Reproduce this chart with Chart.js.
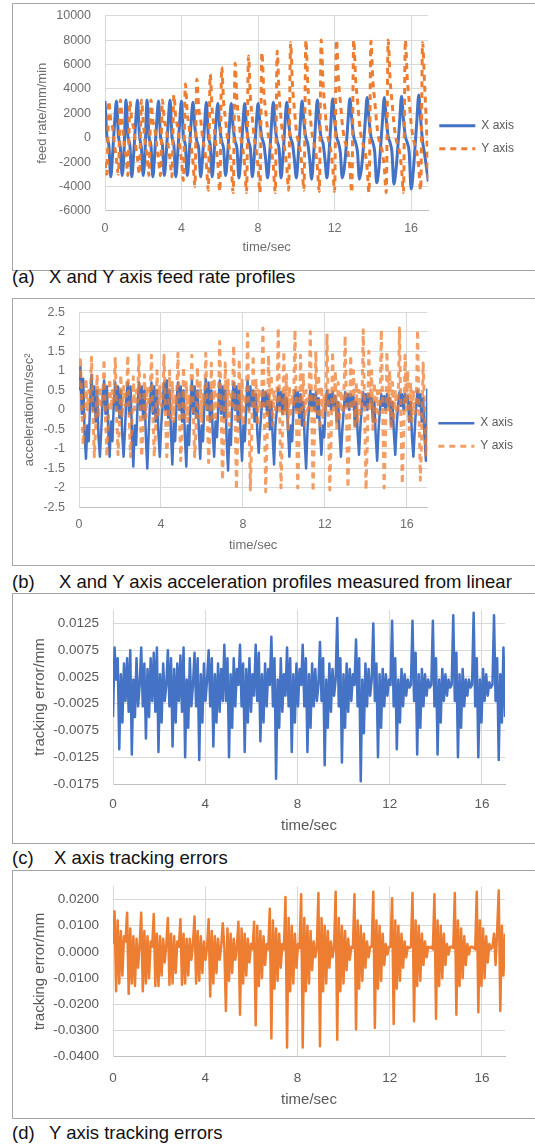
<!DOCTYPE html>
<html>
<head>
<meta charset="utf-8">
<title>Feed rate, acceleration and tracking error profiles</title>
<script src="https://cdn.jsdelivr.net/npm/chart.js@4/dist/chart.umd.min.js"></script>
<style>
  body { margin: 0; background: #fff; }
  #page { position: relative; width: 535px; height: 1144px; overflow: hidden; font-family: 'Liberation Sans', Arial, sans-serif; }
  .frame { position: absolute; left: 12px; width: 560px; border: 1px solid #a6a6a6; }
  .caption { position: absolute; left: 12px; width: 523px; height: 20px; font-size: 18.5px; line-height: 20px; color: #111; white-space: nowrap; }
  .caption span { position: absolute; top: 0; }
  canvas { position: absolute; left: 13px; }
</style>
</head>
<body>
<div id="page">
  <div class="frame" style="top:3px;height:266px"></div>
  <canvas id="chartA" width="522" height="259" style="top:0"></canvas>
  <div class="caption" style="top:267px"><span style="left:0">(a)</span><span style="left:37px">X and Y axis feed rate profiles</span></div>

  <div class="frame" style="top:298px;height:266px"></div>
  <canvas id="chartB" width="522" height="258" style="top:299px"></canvas>
  <div class="caption" style="top:572px"><span style="left:0">(b)</span><span style="left:47px">X and Y axis acceleration profiles measured from linear</span></div>

  <div class="frame" style="top:593px;height:249px"></div>
  <canvas id="chartC" width="522" height="245" style="top:594px"></canvas>
  <div class="caption" style="top:848px"><span style="left:0">(c)</span><span style="left:42px">X axis tracking errors</span></div>

  <div class="frame" style="top:870px;height:247px"></div>
  <canvas id="chartD" width="522" height="242" style="top:871px"></canvas>
  <div class="caption" style="top:1123px"><span style="left:0">(d)</span><span style="left:37px">Y axis tracking errors</span></div>
</div>
<script>
// time between samples (s)
const feedStep = 0.1
const sampleStep = 0.068

const seriesNames = ['X axis', 'Y axis']
const timeTicks = [0, 4, 8, 12, 16]
const feedTicks = [-6000, -4000, -2000, 0, 2000, 4000, 6000, 8000, 10000]
const accelTicks = [-2.5, -2, -1.5, -1, -0.5, 0, 0.5, 1, 1.5, 2, 2.5]
const errXTicks = [-0.0175, -0.0125, -0.0075, -0.0025, 0.0025, 0.0075, 0.0125]
const errYTicks = [-0.04, -0.03, -0.02, -0.01, 0, 0.01, 0.02]
const errXRange = [-0.0175, 0.015]
const errYRange = [-0.04, 0.025]

// (a) feed rate, mm/min
const feedX = [
  3000, 100, -600, -3200, -1300, 1200,
  3000, 200, -800, -3100, -900,
  3100, 100, -600, -3200, -1300, 1200,
  3100, 200, -800, -3100, -900,
  3100, 100, -600, -3200, -1300, 1200,
  3000, 100, -600, -3100, -1300, 1200,
  3100, 100, -600, -3200, -1300, 1200,
  3000, 100, -600, -3100, -1300, 1200,
  2900, 800, -300, -900, -3200, -1600, 900,
  2900, 100, -600, -3200, -1300, 1200,
  2800, 800, -300, -900, -3100, -1600, 900,
  2800, 800, -300, -900, -3300, -1600, 900,
  2800, 800, -300, -900, -3200, -1600, 900,
  2800, 1200, 0, -500, -1800, -3300, -1500, 1000,
  2900, 800, -300, -900, -3300, -1600, 900,
  2900, 1200, 0, -500, -1800, -3300, -1500, 1000,
  3000, 1200, 0, -500, -1800, -3400, -1500, 1000,
  3100, 1200, 0, -500, -1800, -3300, -1500, 1000,
  3200, 1500, 100, -400, -1200, -3300, -2600, -900, 1300,
  3200, 1500, 100, -400, -1200, -3400, -2600, -900, 1300,
  3300, 1500, 100, -400, -1200, -3700, -2800, -900, 1300,
  3300, 1500, 100, -400, -1200, -3800, -2800, -900, 1300,
  3400, 1500, 100, -400, -1200, -4200, -3000, -900, 1400,
  3500, 1500, -300, -1300, -2400, -3600,
]
const feedY = [
  -2000, -3000,
  3000, 1400, 800, -600, -1800, -3000,
  3100, 1300, -500, -1500, -3100,
  3000, 1400, 800, -600, -1800, -3000,
  3100, 1300, -500, -1500, -3100,
  3100, 1400, 800, -600, -1800, -3100,
  3100, 1400, 800, -600, -1800, -3200,
  3500, 1600, 900, -600, -1900, -3500,
  4400, 2000, 900, -600, -2000, -4000,
  4800, 2400, 1500, 0, -900, -2200, -4300,
  5200, 2300, 900, -600, -2100, -4400,
  5800, 2900, 1500, 0, -900, -2300, -4500,
  6100, 3000, 1500, 0, -900, -2300, -4500,
  6700, 3300, 1600, 0, -1000, -2400, -4500,
  7000, 3800, 2200, 600, -300, -1000, -2400, -4500,
  7100, 3500, 1600, 0, -1000, -2400, -4300,
  7800, 4300, 2300, 600, -300, -1000, -2400, -4300,
  8000, 4400, 2300, 600, -300, -1000, -2400, -4400,
  8000, 4400, 2300, 600, -300, -1000, -2400, -4400,
  8000, 4800, 3000, 1200, 0, -600, -1200, -2500, -4500,
  8000, 4800, 3000, 1200, 0, -600, -1200, -2500, -4500,
  7900, 4700, 3000, 1200, 0, -600, -1200, -2500, -4500,
  8000, 4800, 3000, 1200, 0, -600, -1200, -2500, -4500,
  8000, 4800, 3000, 1200, 0, -600, -1200, -2500, -4300,
  7800, 4500, 1000, -3500,
]

// (b) acceleration, m/sec^2
const accelX = [
  0.5, 1.1, -0.1, 0.8, -0.6, -1.25, -0.4, -0.8,
  0.2, 0.9, 0, 0.6, -0.3, 0.5, -0.7, -1.2, -0.5,
  0.3, 0.75, -0.1, 0.6, -0.5, -1.2, -0.3, -0.8,
  0.2, 0.7, 0, 0.6, -0.2, 0.5, -0.6, -1.2, -0.5,
  0.3, 0.7, -0.1, 0.6, -0.6, -1.45, -0.4, -0.9,
  0.1, 0.7, 0, 0.6, -0.2, 0.5, -0.7, -1.5, -0.6,
  0.2, 0.7, -0.1, 0.6, -0.3, 0.5, -0.6, -1.2, -0.4,
  0.1, 0.7, 0, 0.75, -0.2, 0.5, -0.6, -1.4, -0.3, -0.8,
  0.2, 0.7, 0, 0.6, -0.3, 0.5, -0.7, -1.45, -0.4, -0.9,
  0.1, 0.75, -0.1, 0.6, -0.2, 0.5, -0.5, -1.25, -0.4, -0.8,
  0.2, 0.8, 0, 0.7, -0.3, 0.5, -0.6, -1.2, -0.3, -0.7,
  0.1, 0.75, -0.1, 0.6, -0.2, 0.5, -0.8, -1.55, -0.5, -0.9,
  0.2, 0.7, 0, 0.6, -0.3, 0.5, -0.6, -1.3, -0.4, -0.8,
  0.1, 0.75, 0, 0.6, 0.1, 0.5, -0.3, 0.4, -0.6, -1.1, -0.5,
  0, 0.5, 0.1, 0.45, -0.1, 0.4, -0.5, 0.2, -0.7, -1.4, -0.4,
  0, 0.55, 0.1, 0.45, -0.1, 0.4, 0, 0.3, -0.5, -1.2, -0.4, -0.8,
  0.1, 0.5, 0, 0.45, -0.2, 0.4, -0.4, 0.2, -0.8, -1.5, -0.5,
  0, 0.5, 0.1, 0.4, 0, 0.45, -0.2, 0.3, -0.6, -1.15, -0.4, -0.7,
  0.1, 0.5, 0.1, 0.4, 0, 0.45, 0.1, 0.35, -0.3, 0.2, -0.6, -1.2, -0.5,
  0, 0.45, 0.1, 0.4, 0, 0.4, 0.1, 0.35, -0.4, 0.2, -0.6, -1.15, -0.4,
  0.1, 0.45, 0.1, 0.4, 0, 0.4, 0.2, 0.3, -0.3, 0.2, -0.7, -1.3, -0.5,
  0, 0.4, 0.1, 0.35, 0, 0.4, 0.1, 0.3, -0.4, 0.2, -0.6, -1.15, -0.4,
  0.1, 0.45, 0.1, 0.4, 0, 0.4, 0.2, 0.35, -0.3, 0.2, -0.7, -1.2, -0.5,
  0.1, 0.5, 0.1, 0.4, -0.3, 0.3, -0.7, -1.3, 0.55,
]
const accelY = [
  0.6, 1.35, 0.1, -0.9, -0.3, 0.8, 0, 0.5,
  0.2, 1.35, -0.1, -1.2, -0.4, 0.9, -0.2, 0.6, 0.1,
  0.2, 1.3, -0.2, -1.2, -0.3, 0.8, 0, 0.5,
  0.2, 1.35, -0.1, -1.15, -0.4, 0.9, -0.2, 0.6, 0.1,
  0.2, 1.4, -0.2, -1.2, -0.3, 0.85, 0, 0.5,
  0.2, 1.4, -0.1, -1.2, -0.4, 0.9, -0.2, 0.6, 0.1,
  0.2, 1.4, -0.1, -1.2, -0.5, 1, -0.2, 0.6, 0.1,
  0.1, 1.4, 0, -1.2, -0.5, 1, -0.2, 0.7, -0.3, 0.4,
  0.1, 1.45, 0, -1.3, -0.5, 1.1, -0.2, 0.7, -0.3, 0.4,
  0.1, 1.4, 0, -1.2, -0.5, 1.1, -0.2, 0.7, -0.3, 0.4,
  0.1, 1.45, 0, -1.35, -0.6, 1.2, -0.2, 0.8, -0.3, 0.4,
  0.1, 1.75, 0, -1.8, -0.6, 1.2, -0.2, 0.8, -0.4, 0.4,
  0.1, 1.65, 0, -2.05, -0.6, 1.3, -0.2, 0.8, -0.4, 0.4,
  0.1, 1.95, -0.1, -2.05, -0.6, 1.4, 0, 0.8, -0.4, 0.5, 0,
  0.1, 2.1, -0.1, -2.1, -0.7, 1.4, 0, 0.9, -0.4, 0.5, 0,
  0.1, 2.1, 0, -2, -0.6, 1.5, -0.1, 0.9, -0.5, 0.6, -0.2, 0.4,
  0.1, 2.05, -0.1, -2, -0.7, 1.4, 0, 0.9, -0.4, 0.5, 0,
  0.1, 2, 0, -2.1, -0.6, 1.5, -0.1, 0.9, -0.5, 0.6, -0.2, 0.4,
  0, 1.95, -0.1, -2.05, -0.7, 1.5, 0, 1, -0.5, 0.7, -0.3, 0.5, -0.1,
  0, 1.9, -0.1, -2, -0.7, 1.4, 0, 1, -0.5, 0.7, -0.3, 0.5, -0.1,
  0, 2.05, -0.1, -2.05, -0.7, 1.5, 0, 1, -0.5, 0.7, -0.3, 0.5, -0.1,
  0, 2.05, -0.1, -2, -0.7, 1.5, 0, 1, -0.5, 0.7, -0.3, 0.5, -0.1,
  0, 2.1, -0.1, -1.9, -0.7, 1.4, 0, 1, -0.5, 0.7, -0.3, 0.5, -0.1,
  0, 2.05, -0.1, -1.8, -0.6, 1.2, 0, -1.2, -0.4,
]

// (c) X axis tracking error, mm
const errX = [
  -0.005, 0.008, 0.002, 0.006, -0.011, 0.003, -0.006, 0.005,
  -0.002, 0.006, -0.004, 0.0075, -0.012, 0.002, -0.005, 0.006, -0.003,
  0.001, 0.008, -0.003, 0.005, -0.009, 0.004, -0.005, 0.006,
  -0.002, 0.007, -0.004, 0.008, -0.0115, 0.003, -0.006, 0.005, -0.002,
  0.001, 0.0075, -0.003, 0.006, -0.0105, 0.004, -0.006, 0.005,
  -0.002, 0.0065, -0.004, 0.008, -0.0125, 0.002, -0.007, 0.006, -0.003,
  0.001, 0.007, -0.003, 0.006, -0.013, 0.003, -0.006, 0.005, -0.002,
  0.002, 0.0075, -0.003, 0.006, -0.0105, 0.003, -0.006, 0.005, -0.004, 0.004,
  -0.002, 0.0085, -0.002, 0.006, -0.0125, 0.003, -0.007, 0.006, -0.003, 0.004,
  0.001, 0.0085, -0.003, 0.005, -0.0115, 0.004, -0.006, 0.006, -0.004, 0.003,
  -0.001, 0.0085, -0.002, 0.007, -0.0095, 0.003, -0.006, 0.005, -0.003, 0.004,
  0.001, 0.01, -0.003, 0.006, -0.0165, 0.002, -0.007, 0.006, -0.004, 0.003,
  -0.001, 0.008, -0.003, 0.006, -0.0115, 0.003, -0.006, 0.005, -0.003, 0.004,
  0.001, 0.0085, -0.003, 0.006, -0.0115, 0.003, -0.007, 0.005, -0.003, 0.004, -0.002,
  0.001, 0.009, -0.002, 0.006, -0.014, 0.002, -0.007, 0.005, -0.004, 0.004, -0.001,
  0.002, 0.0135, -0.003, 0.006, -0.0135, 0.003, -0.007, 0.005, -0.004, 0.004, -0.002, 0.003,
  0.001, 0.0095, -0.003, 0.006, -0.017, 0.002, -0.008, 0.005, -0.003, 0.004, -0.001,
  0.002, 0.0125, -0.002, 0.005, -0.0125, 0.003, -0.007, 0.004, -0.003, 0.003, -0.001, 0.002,
  0.001, 0.013, -0.003, 0.006, -0.011, 0.002, -0.006, 0.004, -0.003, 0.003, -0.001, 0.002, 0.0005,
  0.001, 0.013, -0.002, 0.007, -0.012, 0.003, -0.007, 0.004, -0.003, 0.003, -0.001, 0.002, 0.0005,
  0.001, 0.013, -0.003, 0.006, -0.012, 0.002, -0.006, 0.004, -0.002, 0.003, -0.001, 0.002, 0.0005,
  0.001, 0.014, -0.002, 0.007, -0.0125, 0.003, -0.007, 0.004, -0.003, 0.002, -0.001, 0.002, 0.0005,
  0.001, 0.0145, -0.003, 0.006, -0.0125, 0.002, -0.006, 0.004, -0.002, 0.003, -0.001, 0.0015, 0.0005,
  0.001, 0.014, -0.002, 0.006, -0.013, 0.003, -0.006, 0.008, -0.005,
]

// (d) Y axis tracking error, mm
const errY = [
  0.003, 0.0155, -0.015, 0.012, -0.012, 0.008, -0.009, 0.006,
  0.004, 0.015, -0.016, 0.009, -0.012, 0.006, -0.013, 0.005, -0.006,
  0.003, 0.015, -0.015, 0.008, -0.012, 0.006, -0.01, 0.004,
  0.002, 0.0145, -0.013, 0.007, -0.013, 0.006, -0.009, 0.005, -0.004,
  0.003, 0.013, -0.0125, 0.007, -0.012, 0.006, -0.008, 0.004,
  0.002, 0.0125, -0.0125, 0.007, -0.012, 0.005, -0.009, 0.005, -0.003,
  0.003, 0.0135, -0.012, 0.008, -0.011, 0.006, -0.008, 0.004, -0.003,
  0.002, 0.0125, -0.017, 0.008, -0.012, 0.006, -0.008, 0.005, -0.003, 0.002,
  0.011, 0.002, -0.0225, 0.009, -0.011, 0.007, -0.008, 0.005, -0.003, 0.002,
  0.0115, -0.024, 0.009, -0.012, 0.007, -0.009, 0.005, -0.004, 0.003, 0.001,
  0.0115, -0.028, 0.01, -0.013, 0.008, -0.01, 0.006, -0.005, 0.003, 0.001,
  0.0165, -0.033, 0.012, -0.014, 0.009, -0.011, 0.007, -0.006, 0.003, 0.001,
  0.021, -0.0365, 0.013, -0.015, 0.01, -0.012, 0.007, -0.006, 0.003, 0.0015,
  0.022, -0.0365, 0.013, -0.015, 0.01, -0.012, 0.008, -0.007, 0.004, -0.002, 0.002,
  0.0225, -0.036, 0.013, -0.015, 0.01, -0.012, 0.008, -0.006, 0.004, -0.002, 0.002,
  0.023, -0.0335, 0.013, -0.015, 0.01, -0.012, 0.008, -0.007, 0.005, -0.003, 0.002, 0.0015,
  0.022, -0.0295, 0.012, -0.014, 0.01, -0.011, 0.007, -0.006, 0.004, -0.002, 0.002,
  0.002, 0.023, -0.029, 0.012, -0.014, 0.01, -0.011, 0.007, -0.005, 0.003, -0.001, 0.002,
  0.002, 0.0205, -0.0275, 0.012, -0.014, 0.01, -0.011, 0.007, -0.006, 0.004, -0.002, 0.002, 0.0015,
  0.002, 0.0225, -0.0265, 0.012, -0.013, 0.01, -0.011, 0.007, -0.005, 0.004, -0.002, 0.002, 0.0015,
  0.002, 0.001, 0.022, -0.0255, 0.012, -0.013, 0.01, -0.01, 0.007, -0.005, 0.003, -0.001, 0.002,
  0.002, 0.0015, 0.0225, -0.024, 0.012, -0.013, 0.009, -0.01, 0.006, -0.005, 0.003, -0.001, 0.002,
  0.002, 0.0015, 0.001, 0.023, -0.023, 0.012, -0.013, 0.009, -0.01, 0.006, -0.004, 0.003, 0.001,
  0.002, 0.007, -0.005, 0.008, 0.0235, -0.0225, 0.01, -0.009, 0.007,
]

const BLUE = '#4472C4'
const ORANGE = '#ED7D31'
const ORANGE_SOFT = 'rgba(237,125,49,0.75)'
const GRID = '#d9d9d9'

Chart.defaults.font.family = "'Liberation Sans', Arial, sans-serif"

function toPoints(values, step) {
  return values.map((v, i) => ({ x: i * step, y: v }))
}

function xAxis(max, f) {
  return {
    type: 'linear',
    min: 0,
    max: max,
    afterBuildTicks: (axis) => { axis.ticks = timeTicks.map((v) => ({ value: v })) },
    afterFit: (axis) => {
      axis.height = f.height
      axis.paddingLeft = 0
      axis.paddingRight = 0
    },
    grid: { color: GRID, drawTicks: false },
    border: { color: '#bfbfbf' },
    ticks: { color: f.color, font: { size: f.tick }, padding: f.pad, maxRotation: 0 },
    title: { display: true, text: 'time/sec', color: f.color, font: { size: f.titleSize }, padding: { top: 4, bottom: 4 } },
  }
}

function yAxis(range, ticks, format, f) {
  return {
    min: range[0],
    max: range[1],
    afterBuildTicks: (axis) => { axis.ticks = ticks.map((v) => ({ value: v })) },
    afterFit: (axis) => {
      // keep the plot box where the layout padding puts it
      axis.width = f.width
      axis.paddingTop = 0
      axis.paddingBottom = 0
    },
    grid: { color: GRID, drawTicks: false },
    border: { color: GRID },
    ticks: { color: f.color, font: { size: f.tick }, padding: 14, callback: format },
    title: { display: true, text: f.title, color: f.color, font: { size: f.titleSize }, padding: { top: 4, bottom: 4 } },
  }
}

const legendOptions = {
  position: 'right',
  labels: {
    usePointStyle: true,
    pointStyle: 'line',
    pointStyleWidth: 36,
    color: '#595959',
    font: { size: 12 },
    padding: 11,
    sort: (a, b) => a.datasetIndex - b.datasetIndex,
    generateLabels: (chart) => {
      const items = Chart.defaults.plugins.legend.labels.generateLabels(chart)
      items.forEach((item) => {
        const ds = chart.data.datasets[item.datasetIndex]
        item.strokeStyle = ds.borderColor
        item.lineWidth = ds.borderWidth
        item.lineDash = ds.borderDash || []
        item.lineCap = 'butt'
        item.pointStyle = 'line'
      })
      return items
    },
  },
}

function drawPanel(id, datasets, p) {
  return new Chart(document.getElementById(id), {
    type: 'line',
    data: { datasets: datasets },
    options: {
      responsive: false,
      animation: false,
      devicePixelRatio: 1,
      parsing: false,
      layout: { padding: p.padding },
      elements: { point: { radius: 0 }, line: { borderJoinStyle: 'round', tension: 0 } },
      plugins: {
        legend: p.legend ? legendOptions : { display: false },
        tooltip: { enabled: false },
      },
      scales: { x: p.x, y: p.y },
    },
  })
}

const plain = (v) => String(v)
const fixed4 = (v) => v.toFixed(4)
const softGrey = '#6d6d6d'
const darkGrey = '#595959'

// feed rates are smooth, so draw them as monotone curves
drawPanel('chartA', [
  { label: seriesNames[0], data: toPoints(feedX, feedStep), borderColor: BLUE, borderWidth: 3, cubicInterpolationMode: 'monotone', order: 1 },
  { label: seriesNames[1], data: toPoints(feedY, feedStep), borderColor: ORANGE, borderWidth: 3, borderDash: [6, 5], cubicInterpolationMode: 'monotone', order: 0 },
], {
  legend: true,
  padding: { top: 15.7, left: 18, right: 11, bottom: 0 },
  x: xAxis(16.9, { height: 48.1, color: softGrey, tick: 12.5, titleSize: 13, pad: 10 }),
  y: yAxis([feedTicks[0], feedTicks[feedTicks.length - 1]], feedTicks, plain,
    { width: 74, color: softGrey, tick: 12.5, titleSize: 13, title: 'feed rate/mm/min' }),
})

drawPanel('chartB', [
  { label: seriesNames[0], data: toPoints(accelX, sampleStep), borderColor: BLUE, borderWidth: 2.5, order: 1 },
  { label: seriesNames[1], data: toPoints(accelY, sampleStep), borderColor: ORANGE_SOFT, borderWidth: 3, borderDash: [6, 5], order: 0 },
], {
  legend: true,
  padding: { top: 13.3, left: 5, right: 12, bottom: 0 },
  x: xAxis(17, { height: 49.5, color: softGrey, tick: 12.5, titleSize: 13, pad: 10 }),
  y: yAxis([accelTicks[0], accelTicks[accelTicks.length - 1]], accelTicks, plain,
    { width: 61, color: softGrey, tick: 12.5, titleSize: 13, title: 'acceleration/m/sec²' }),
})

drawPanel('chartC', [
  { label: seriesNames[0], data: toPoints(errX, sampleStep), borderColor: BLUE, borderWidth: 2.5 },
], {
  legend: false,
  padding: { top: 16, left: 14, right: 30, bottom: 0 },
  x: xAxis(17, { height: 55, color: darkGrey, tick: 13.5, titleSize: 15, pad: 12 }),
  y: yAxis(errXRange, errXTicks, fixed4,
    { width: 86, color: darkGrey, tick: 13.5, titleSize: 15, title: 'tracking error/mm' }),
})

drawPanel('chartD', [
  { label: seriesNames[1], data: toPoints(errY, sampleStep), borderColor: ORANGE, borderWidth: 2.5 },
], {
  legend: false,
  padding: { top: 15.5, left: 14, right: 30, bottom: 0 },
  x: xAxis(17, { height: 56.3, color: darkGrey, tick: 13.5, titleSize: 15, pad: 13 }),
  y: yAxis(errYRange, errYTicks, fixed4,
    { width: 86, color: darkGrey, tick: 13.5, titleSize: 15, title: 'tracking error/mm' }),
})
</script>
</body>
</html>
